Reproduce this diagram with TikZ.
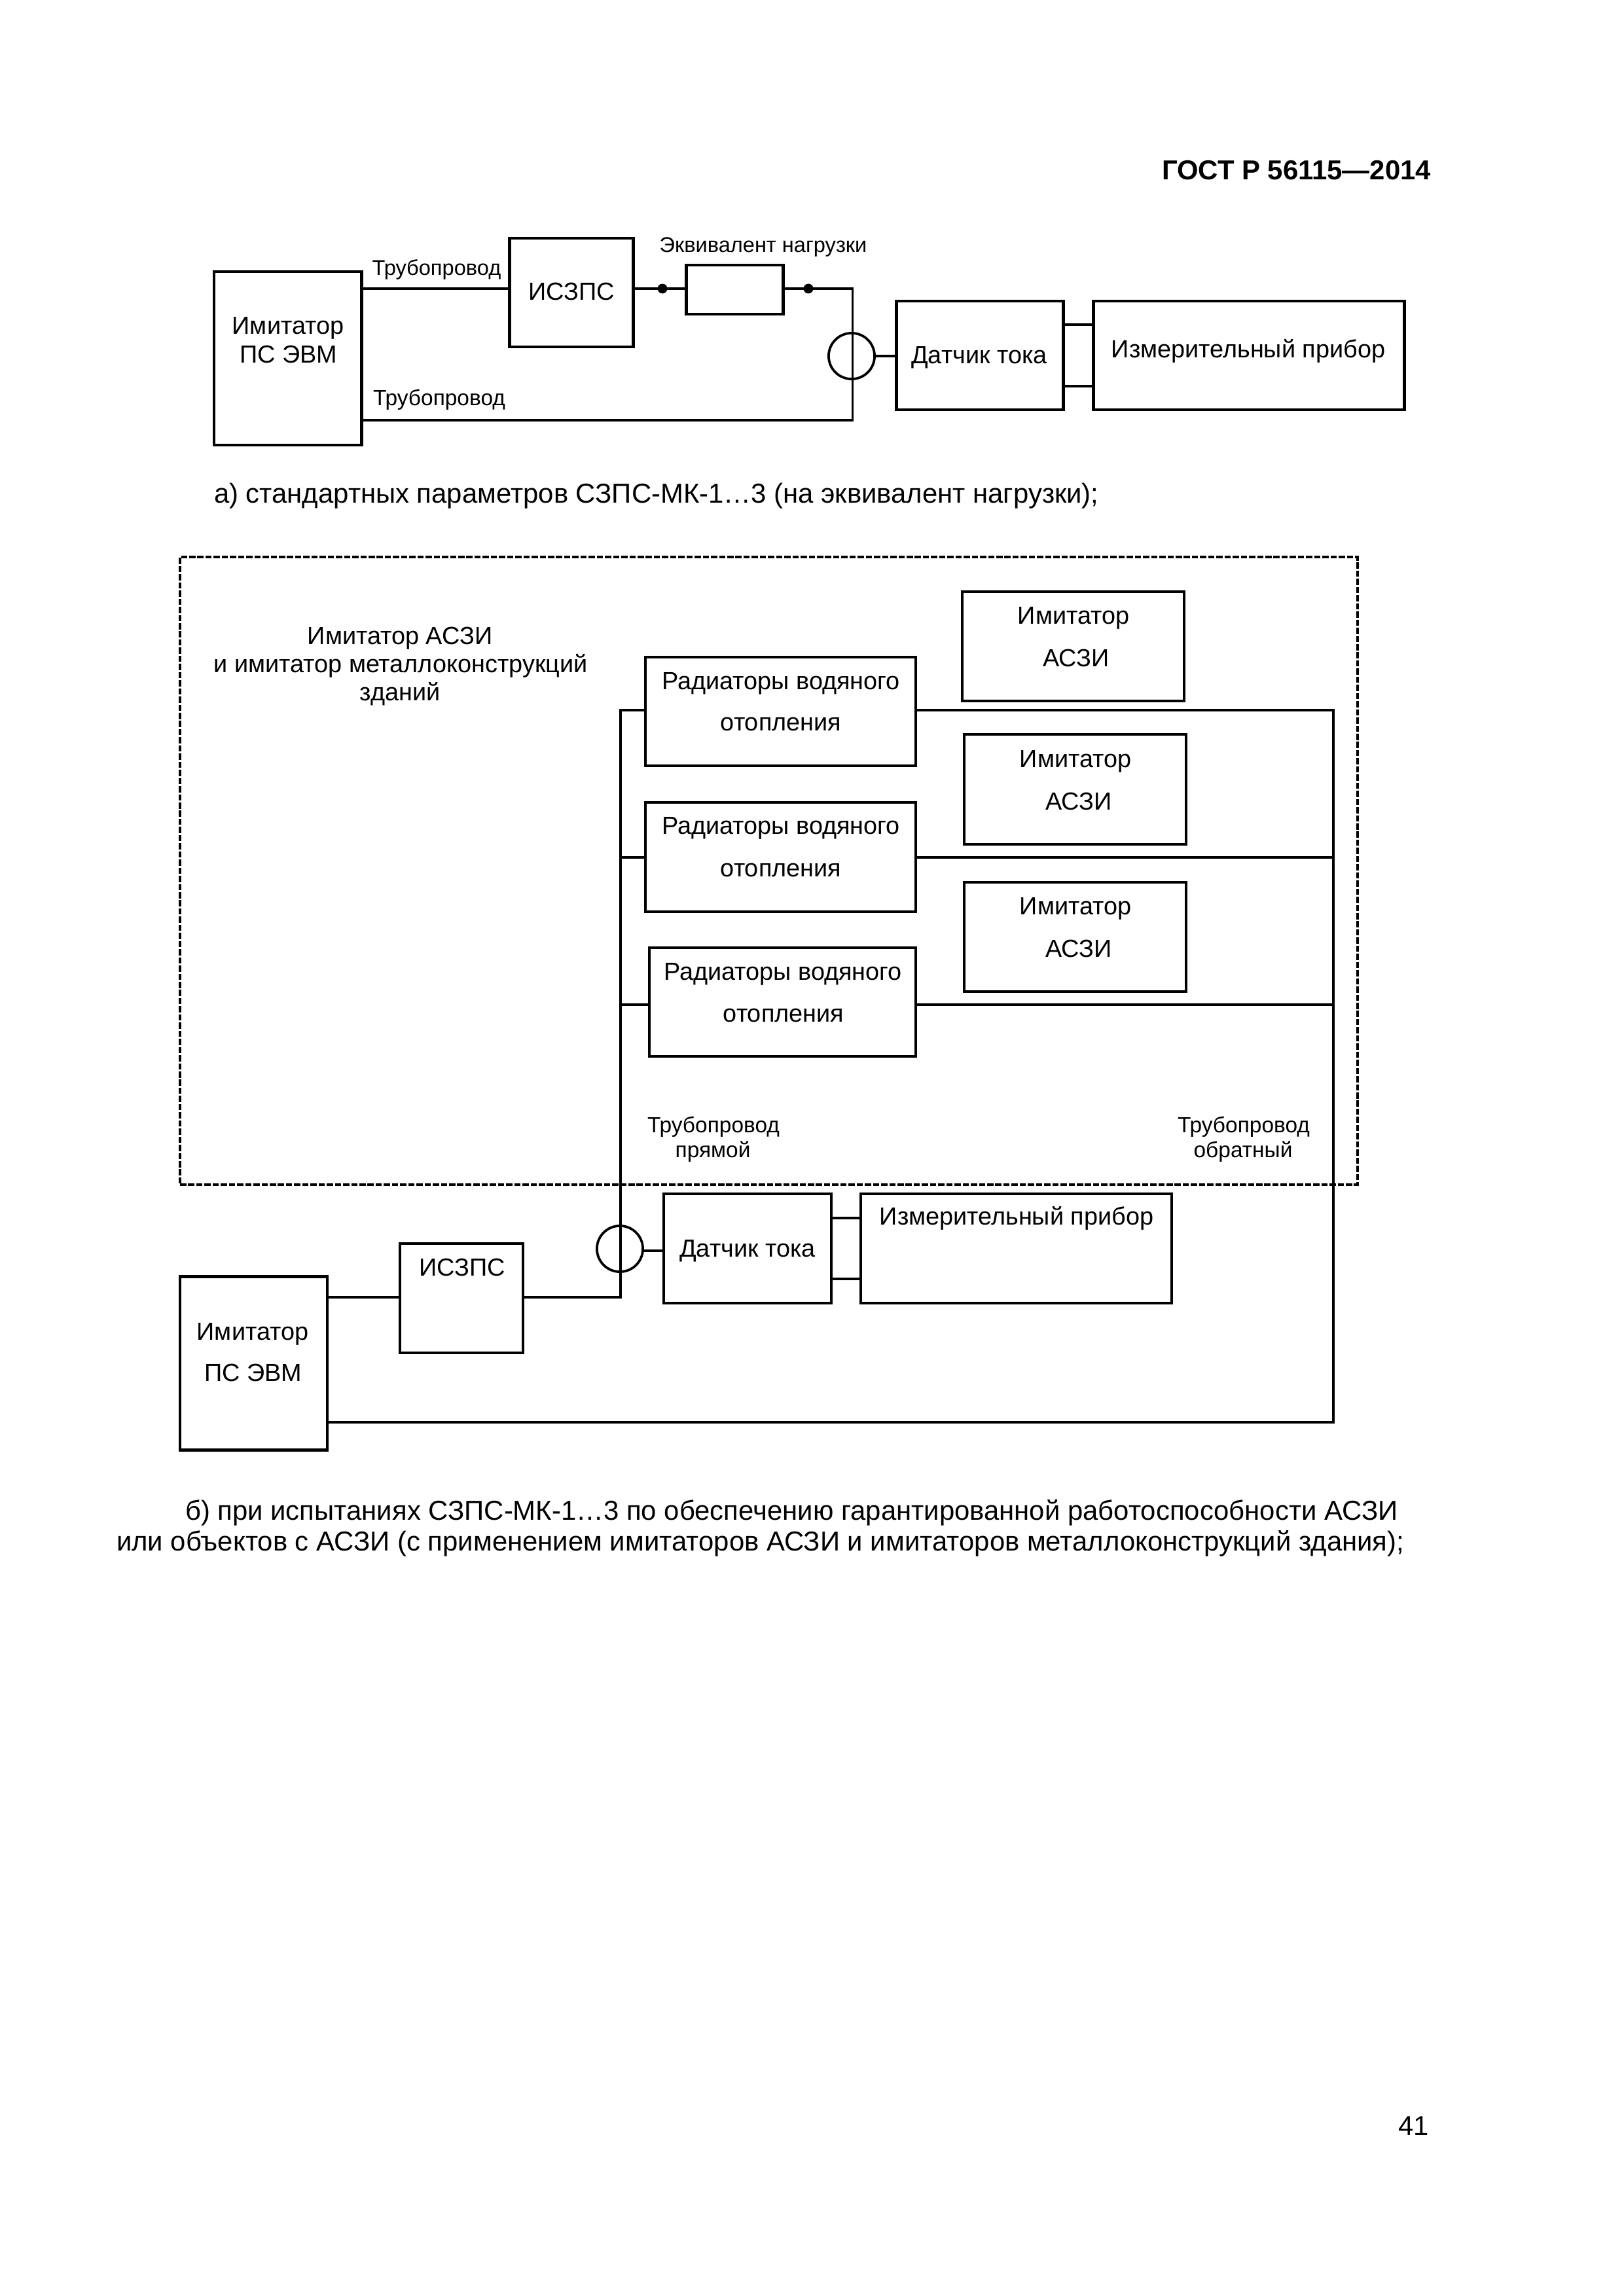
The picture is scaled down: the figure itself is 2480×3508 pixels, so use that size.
\documentclass[tikz,border=0pt]{standalone}
\usepackage{fontspec}
\setmainfont{Liberation Sans}
\newcommand{\pxu}{0.24088pt}
\tikzset{
  x=0.24088pt,y=-0.24088pt,
  bx/.style={draw=black,line width=1.0pt,rectangle,inner sep=0pt,outer sep=0pt,fill=none},
  bxa/.style={draw=black,line width=1.2pt,rectangle,inner sep=0pt,outer sep=0pt,fill=none},
  dashbx/.style={draw=black,line width=0.8pt,rectangle,inner sep=0pt,outer sep=0pt,dash pattern=on 2.3pt off 0.7pt},
  wire/.style={draw=black,line width=1.0pt,line cap=rect},
  ring/.style={draw=black,line width=0.9pt,circle,inner sep=0pt,outer sep=0pt,minimum size=16.9pt,fill=none},
  jdot/.style={fill=black,circle,inner sep=0pt,outer sep=0pt,minimum size=3.6pt},
  lb/.style={anchor=base,inner sep=0pt,outer sep=0pt,font=\fontsize{9.08bp}{11bp}\selectfont},
  sm/.style={anchor=base,inner sep=0pt,outer sep=0pt,font=\fontsize{8.03bp}{10bp}\selectfont},
  sma/.style={anchor=base,inner sep=0pt,outer sep=0pt,font=\fontsize{7.82bp}{10bp}\selectfont},
  capt/.style={anchor=base west,inner sep=0pt,outer sep=0pt,font=\fontsize{10.05bp}{12bp}\selectfont},
  hd/.style={anchor=base east,inner sep=0pt,outer sep=0pt,font=\fontsize{10.05bp}{12bp}\selectfont\bfseries},
  pg/.style={anchor=base east,inner sep=0pt,outer sep=0pt,font=\fontsize{10bp}{12bp}\selectfont},
}
\newcommand{\bxn}[6][bx]{\node[#1,minimum width={(#5-#3)*\pxu},minimum height={(#6-#4)*\pxu}] (#2) at ({(#3+#5)/2},{(#4+#6)/2}) {};}
\begin{document}
\begin{tikzpicture}
\useasboundingbox (0,0) rectangle (2480,3508);
\fill[white] (0,0) rectangle (2480,3508);
% header, page number
\node[hd] (head) at (2186,275) {ГОСТ Р 56115—2014};
\node[pg] (pgnum) at (2183,3262) {41};
% ---- part a ----
\bxn[bxa]{aim}{327}{415}{552}{680}
\bxn[bxa]{aisz}{778}{364}{967}{530}
\bxn[bxa]{aload}{1048}{405}{1196}{480}
\bxn[bxa]{asens}{1369}{460}{1624}{626}
\bxn[bxa]{ameter}{1670}{460}{2145}{626}
\node[ring] (aring) at (1301,544) {};
\coordinate (atop) at (1302,441);
\coordinate (abot) at (1302,642);
\node[jdot] (ad1) at (1012,441) {};
\node[jdot] (ad2) at (1235,441) {};
\coordinate (al1) at (1624,496);
\coordinate (al2) at (1624,590);
\draw[wire] (aim.east |- atop) -- (aisz.west |- atop);
\draw[wire] (aisz.east |- atop) -- (aload.west |- atop);
\draw[wire] (aload.east |- atop) -- (atop);
\draw[draw=black,line width=0.72pt] (atop) -- (abot);
\draw[wire] (abot) -- (aim.east |- abot);
\draw[wire,line cap=butt] (aring.east) -- (asens.west |- aring.east);
\draw[wire,line cap=butt] (al1) -- (ameter.west |- al1);
\draw[wire,line cap=butt] (al2) -- (ameter.west |- al2);
\node[lb] (aimt1) at (440,511) {Имитатор};
\node[lb] (aimt2) at (441,555) {ПС ЭВМ};
\node[lb] (aiszt) at (873,459) {ИСЗПС};
\node[sma] (aloadt) at (1166,386) {Эквивалент нагрузки};
\node[sma] (apipe1) at (667,421) {Трубопровод};
\node[sm] (apipe2) at (671,620) {Трубопровод};
\node[lb] (asenst) at (1496,556) {Датчик тока};
\node[lb] (ametert) at (1907,547) {Измерительный прибор};
\node[capt] (capa) at (327,769) {а) стандартных параметров СЗПС-МК-1…3 (на эквивалент нагрузки);};
% ---- part b ----
\bxn[dashbx]{bdash}{275}{851}{2074}{1810}
\bxn{bas1}{1470}{904}{1809}{1071}
\bxn{bas2}{1473}{1122}{1812}{1290}
\bxn{bas3}{1473}{1348}{1812}{1515}
\bxn{brad1}{986}{1004}{1399}{1170}
\bxn{brad2}{986}{1226}{1399}{1393}
\bxn{brad3}{992}{1448}{1399}{1614}
\bxn{bsens}{1014}{1824}{1270}{1991}
\bxn{bmeter}{1315}{1824}{1790}{1991}
\bxn{bisz}{611}{1900}{799}{2067}
\bxn[bxa]{bim}{275}{1950}{500}{2215}
\node[ring] (bring) at (947,1908) {};
\coordinate (lt) at (948,1085);
\coordinate (lm) at (948,1310);
\coordinate (lb) at (948,1535);
\coordinate (lj) at (948,1982);
\coordinate (rt) at (2037,1085);
\coordinate (rm) at (2037,1310);
\coordinate (rb) at (2037,1535);
\coordinate (rj) at (2037,2173);
\coordinate (bl1) at (1270,1861);
\coordinate (bl2) at (1270,1954);
\coordinate (bs) at (1014,1911);
\draw[wire] (lt) -- (lj);
\draw[wire] (lt) -- (brad1.west |- lt);
\draw[wire] (lm) -- (brad2.west |- lm);
\draw[wire] (lb) -- (brad3.west |- lb);
\draw[wire] (brad1.east |- rt) -- (rt);
\draw[wire] (brad2.east |- rm) -- (rm);
\draw[wire] (brad3.east |- rb) -- (rb);
\draw[wire] (rt) -- (rj);
\draw[wire] (rj) -- (bim.east |- rj);
\draw[wire] (lj) -- (bisz.east |- lj);
\draw[wire] (bisz.west |- lj) -- (bim.east |- lj);
\draw[wire,line cap=butt] (bring.east |- bs) -- (bs);
\draw[wire,line cap=butt] (bl1) -- (bmeter.west |- bl1);
\draw[wire,line cap=butt] (bl2) -- (bmeter.west |- bl2);
\node[lb] (asit1) at (1640,953) {Имитатор};
\node[lb] (asia1) at (1644,1018) {АСЗИ};
\node[lb] (asit2) at (1643,1172) {Имитатор};
\node[lb] (asia2) at (1648,1237) {АСЗИ};
\node[lb] (asit3) at (1643,1397) {Имитатор};
\node[lb] (asia3) at (1648,1462) {АСЗИ};
\node[lb] (r1a) at (1193,1053) {Радиаторы водяного};
\node[lb] (r1b) at (1193,1116) {отопления};
\node[lb] (r2a) at (1193,1274) {Радиаторы водяного};
\node[lb] (r2b) at (1193,1339) {отопления};
\node[lb] (r3a) at (1196,1497) {Радиаторы водяного};
\node[lb] (r3b) at (1197,1561) {отопления};
\node[lb] (gr1) at (611,984) {Имитатор АСЗИ};
\node[lb] (gr2) at (612,1027) {и имитатор металлоконструкций};
\node[lb] (gr3) at (611,1070) {зданий};
\node[sm] (pp1) at (1090,1730) {Трубопровод};
\node[sm] (pp2) at (1089,1768) {прямой};
\node[sm] (po1) at (1900,1730) {Трубопровод};
\node[sm] (po2) at (1899,1768) {обратный};
\node[lb] (bsenst) at (1142,1920) {Датчик тока};
\node[lb] (bmetert) at (1553,1871) {Измерительный прибор};
\node[lb] (bisztx) at (706,1949) {ИСЗПС};
\node[lb] (bimt1) at (386,2047) {Имитатор};
\node[lb] (bimt2) at (387,2110) {ПС ЭВМ};
\node[capt] (capb1) at (283,2322) {б) при испытаниях СЗПС-МК-1…3 по обеспечению гарантированной работоспособности АСЗИ};
\node[capt] (capb2) at (178,2369) {или объектов с АСЗИ (с применением имитаторов АСЗИ и имитаторов металлоконструкций здания);};
\end{tikzpicture}
\end{document}
